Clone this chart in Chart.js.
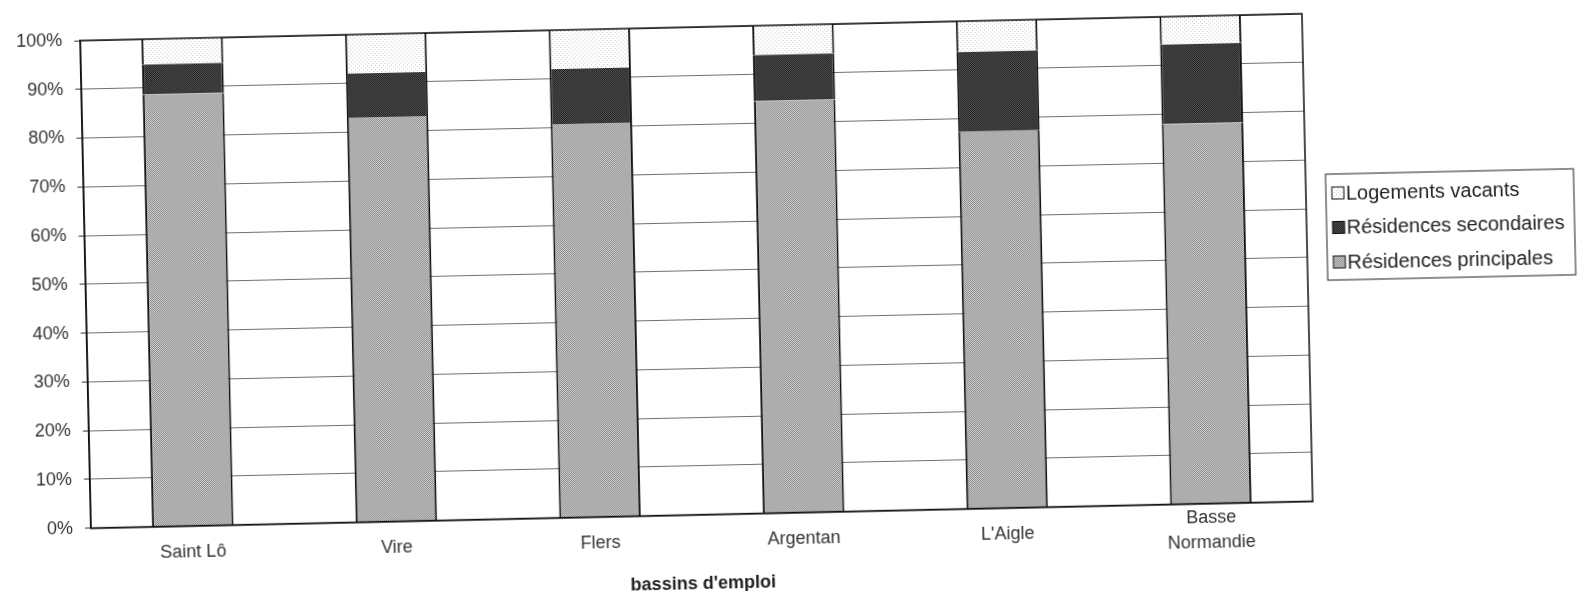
<!DOCTYPE html>
<html lang="fr">
<head>
<meta charset="utf-8">
<title>Logements par bassin d'emploi</title>
<script src="https://cdn.jsdelivr.net/npm/chart.js@4/dist/chart.umd.min.js"></script>
<style>
  html, body { margin: 0; padding: 0; background: #fff; overflow: hidden; }
  #cadre { width: 1583px; height: 591px; }
  /* le document d'origine est un scan légèrement penché */
  #graphique { transform: rotate(-1.26deg); transform-origin: 50% 50%; }
</style>
</head>
<body>
<div id="cadre"><canvas id="graphique" width="1583" height="591"></canvas></div>
<script>
const bassins = ['Saint Lô', 'Vire', 'Flers', 'Argentan', "L'Aigle", ['Basse', 'Normandie']];
const residencesPrincipales = [88.6, 83.0, 80.7, 84.5, 77.3, 78.0];
const residencesSecondaires = [6.2, 9.0, 11.3, 9.5, 16.4, 16.3];
const logementsVacants = [5.2, 8.0, 8.0, 6.0, 6.3, 5.7];
const etiquettesY = ['0%', '10%', '20%', '30%', '40%', '50%', '60%', '70%', '80%', '90%', '100%'];

const police = "'Liberation Sans', Arial, sans-serif";
const canvas = document.getElementById('graphique');
const ctx = canvas.getContext('2d');

// trames façon impression noir et blanc
function trameDamier(fond, point) {
    const c = document.createElement('canvas');
    c.width = c.height = 2;
    const g = c.getContext('2d');
    g.fillStyle = fond;
    g.fillRect(0, 0, 2, 2);
    g.fillStyle = point;
    g.fillRect(0, 0, 1, 1);
    g.fillRect(1, 1, 1, 1);
    return ctx.createPattern(c, 'repeat');
}

function trameClaire(fond, point) {
    const c = document.createElement('canvas');
    c.width = c.height = 4;
    const g = c.getContext('2d');
    g.fillStyle = fond;
    g.fillRect(0, 0, 4, 4);
    g.fillStyle = point;
    g.fillRect(0, 0, 1, 1);
    g.fillRect(2, 2, 1, 1);
    return ctx.createPattern(c, 'repeat');
}

const tramePrincipales = trameDamier('#d8d8d8', '#828282');
const trameSecondaires = trameDamier('#5a5a5a', '#1a1a1a');
const trameVacants = trameClaire('#ffffff', '#c4c4c4');

const cadrePlot = {
    id: 'cadrePlot',
    afterDatasetsDraw(chart) {
        const a = chart.chartArea;
        const c = chart.ctx;
        c.save();
        c.strokeStyle = '#111';
        c.lineWidth = 1.5;
        c.strokeRect(a.left, a.top, a.right - a.left, a.bottom - a.top);
        c.restore();
    }
};

const legendeEncadree = {
    id: 'legendeEncadree',
    afterDraw(chart, args, opts) {
        const c = chart.ctx;
        const items = Chart.defaults.plugins.legend.labels.generateLabels(chart).reverse();
        c.save();
        c.strokeStyle = '#444';
        c.lineWidth = 1.2;
        c.strokeRect(opts.x, opts.y, opts.largeur, opts.hauteur);
        c.font = opts.taille + 'px ' + police;
        c.textBaseline = 'middle';
        items.forEach((it, i) => {
            const yc = opts.premier + i * opts.pas;
            c.fillStyle = it.fillStyle;
            c.fillRect(opts.x + 6, yc - 6, 12, 12);
            c.strokeStyle = '#111';
            c.lineWidth = 1;
            c.strokeRect(opts.x + 6, yc - 6, 12, 12);
            c.fillStyle = '#222';
            c.fillText(it.text, opts.x + 20, yc + 1);
        });
        c.restore();
    }
};

const bordure = { left: 2, right: 2, top: 0, bottom: 0 };

new Chart(ctx, {
    type: 'bar',
    data: {
        labels: bassins,
        datasets: [
            { label: 'Résidences principales', data: residencesPrincipales, backgroundColor: tramePrincipales, borderColor: '#111', borderWidth: bordure },
            { label: 'Résidences secondaires', data: residencesSecondaires, backgroundColor: trameSecondaires, borderColor: '#111', borderWidth: bordure },
            { label: 'Logements vacants', data: logementsVacants, backgroundColor: trameVacants, borderColor: '#111', borderWidth: bordure }
        ]
    },
    options: {
        responsive: false,
        animation: false,
        layout: { padding: { left: 10, right: 275, top: 25, bottom: 0 } },
        datasets: { bar: { categoryPercentage: 1, barPercentage: 0.4 } },
        scales: {
            x: {
                stacked: true,
                grid: { display: false, drawTicks: false },
                border: { display: true, color: '#111', width: 1.5 },
                ticks: {
                    color: '#333',
                    font: { family: police, size: 18, lineHeight: 1.4 },
                    padding: 14,
                    maxRotation: 0,
                    autoSkip: false,
                    crossAlign: 'center'
                },
                title: {
                    display: true,
                    text: "bassins d'emploi",
                    color: '#222',
                    font: { family: police, size: 18, weight: 'bold', lineHeight: 1 },
                    padding: { top: -18, bottom: 0 }
                }
            },
            y: {
                stacked: true,
                min: 0,
                max: 100,
                ticks: {
                    stepSize: 10,
                    padding: 12,
                    color: '#333',
                    font: { family: police, size: 18 },
                    callback: (v, i) => etiquettesY[i]
                },
                grid: { color: '#707070', lineWidth: 1, tickLength: 6, tickColor: '#333' },
                border: { color: '#111', width: 1.5 }
            }
        },
        plugins: {
            legend: { display: false },
            tooltip: { enabled: false },
            legendeEncadree: { x: 1328, y: 186, largeur: 248, hauteur: 106, premier: 205, pas: 34.5, taille: 20 }
        }
    },
    plugins: [cadrePlot, legendeEncadree]
});
</script>
</body>
</html>
